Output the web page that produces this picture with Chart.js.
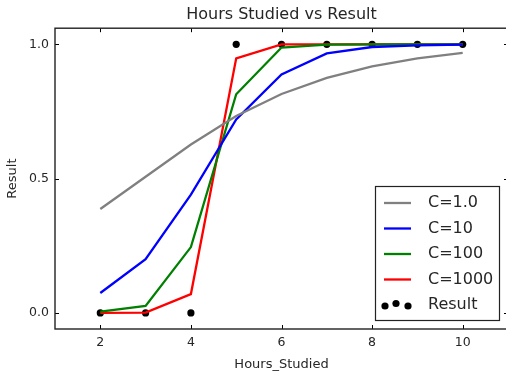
<!DOCTYPE html>
<html>
<head>
<meta charset="utf-8">
<script src="https://cdn.jsdelivr.net/npm/chart.js@4/dist/chart.umd.min.js"></script>
<style>
  html, body { margin: 0; padding: 0; background: #fff; overflow: hidden; }
  #wrap { width: 512px; height: 372px; }
</style>
</head>
<body>
<div id="wrap"><canvas id="myChart" width="512" height="372"></canvas></div>
<script>
const hours = [2, 3, 4, 5, 6, 7, 8, 9, 10];
const result = [0, 0, 0, 1, 1, 1, 1, 1, 1];
const c1 = [0.387, 0.507, 0.627, 0.733, 0.815, 0.875, 0.918, 0.948, 0.968];
const c10 = [0.074, 0.20, 0.44, 0.72, 0.888, 0.966, 0.99, 0.996, 0.999];
const c100 = [0.005, 0.026, 0.245, 0.814, 0.988, 0.999, 1.0, 1.0, 1.0];
const c1000 = [0.0, 0.001, 0.07, 0.948, 1.0, 1.0, 1.0, 1.0, 1.0];
const xTicks = [2, 4, 6, 8, 10];
const yTicks = [0.0, 0.5, 1.0];

const font = 'DejaVu Sans';
const textColor = '#262626';

const toPoints = arr => arr.map((v, i) => ({ x: hours[i], y: v }));

const lineSet = (label, values, color) => ({
    label: label,
    data: toPoints(values),
    borderColor: color,
    backgroundColor: color,
    borderWidth: 2.3,
    pointRadius: 0,
    showLine: true,
    tension: 0
});

// box, inside ticks and legend, drawn the matplotlib way
const frame = {
    id: 'frame',
    afterDraw(chart) {
        const { ctx, chartArea: a, scales } = chart;
        ctx.save();
        ctx.strokeStyle = '#000';
        ctx.lineWidth = 1;
        ctx.beginPath();
        xTicks.forEach(t => {
            const x = Math.round(scales.x.getPixelForValue(t)) + 0.5;
            ctx.moveTo(x, a.bottom); ctx.lineTo(x, a.bottom - 4);
            ctx.moveTo(x, a.top); ctx.lineTo(x, a.top + 4);
        });
        yTicks.forEach(t => {
            const y = Math.round(scales.y.getPixelForValue(t)) + 0.5;
            ctx.moveTo(a.left, y); ctx.lineTo(a.left + 4, y);
            ctx.moveTo(a.right, y); ctx.lineTo(a.right - 4, y);
        });
        ctx.stroke();
        ctx.strokeStyle = '#222';
        ctx.lineWidth = 1.4;
        ctx.strokeRect(a.left, a.top, a.right - a.left, a.bottom - a.top);

        // legend
        const lx = 375.5, ly = 186.5, lw = 124, lh = 134;
        ctx.fillStyle = '#fff';
        ctx.fillRect(lx, ly, lw, lh);
        ctx.strokeStyle = '#222';
        ctx.lineWidth = 1.2;
        ctx.strokeRect(lx, ly, lw, lh);
        ctx.font = '16px "' + font + '"';
        ctx.textBaseline = 'middle';
        ctx.fillStyle = textColor;
        chart.data.datasets.forEach((ds, i) => {
            const y = 203 + i * 25.5;
            if (ds.showLine) {
                ctx.strokeStyle = ds.borderColor;
                ctx.lineWidth = 2.3;
                ctx.beginPath();
                ctx.moveTo(384, y); ctx.lineTo(411, y);
                ctx.stroke();
            } else {
                ctx.fillStyle = '#000';
                [[385, y + 1], [396, y - 1.5], [408, y + 1]].forEach(p => {
                    ctx.beginPath();
                    ctx.arc(p[0], p[1], 3.6, 0, Math.PI * 2);
                    ctx.fill();
                });
            }
            ctx.fillStyle = textColor;
            ctx.fillText(ds.label, 428, y);
        });
        ctx.restore();
    }
};

const ctx = document.getElementById('myChart').getContext('2d');
const myChart = new Chart(ctx, {
    type: 'line',
    data: {
        datasets: [
            lineSet('C=1.0', c1, '#808080'),
            lineSet('C=10', c10, '#0000ff'),
            lineSet('C=100', c100, '#008000'),
            lineSet('C=1000', c1000, '#ff0000'),
            {
                label: 'Result',
                data: toPoints(result),
                showLine: false,
                pointRadius: 3.6,
                pointBackgroundColor: '#000',
                pointBorderWidth: 0,
                borderColor: '#000'
            }
        ]
    },
    options: {
        responsive: false,
        animation: false,
        layout: { padding: { left: 0, right: 2.5, top: 0, bottom: 0 } },
        plugins: {
            legend: { display: false },
            tooltip: { enabled: false },
            title: {
                display: true,
                fullSize: false,
                text: 'Hours Studied vs Result',
                color: textColor,
                font: { family: font, size: 16, weight: 'normal' },
                padding: { top: 5, bottom: 4 }
            }
        },
        scales: {
            x: {
                type: 'linear',
                min: 1,
                max: 11,
                afterFit: s => { s.height = 43; },
                afterBuildTicks: s => { s.ticks = xTicks.map(v => ({ value: v })); },
                grid: { display: false, drawTicks: false },
                border: { display: false },
                ticks: { color: textColor, padding: 6, font: { family: font, size: 12.5 } },
                title: {
                    display: true,
                    text: 'Hours_Studied',
                    color: textColor,
                    padding: { top: 3, bottom: 0 },
                    font: { family: font, size: 13 }
                }
            },
            y: {
                type: 'linear',
                min: -0.06,
                max: 1.06,
                afterFit: s => { s.width = 55; },
                afterBuildTicks: s => { s.ticks = yTicks.map(v => ({ value: v })); },
                grid: { display: false, drawTicks: false },
                border: { display: false },
                ticks: {
                    color: textColor,
                    padding: 6,
                    font: { family: font, size: 12.5 },
                    callback: v => v.toFixed(1)
                },
                title: {
                    display: true,
                    text: 'Result',
                    color: textColor,
                    padding: { top: 5, bottom: 4 },
                    font: { family: font, size: 13 }
                }
            }
        }
    },
    plugins: [frame]
});
</script>
</body>
</html>
